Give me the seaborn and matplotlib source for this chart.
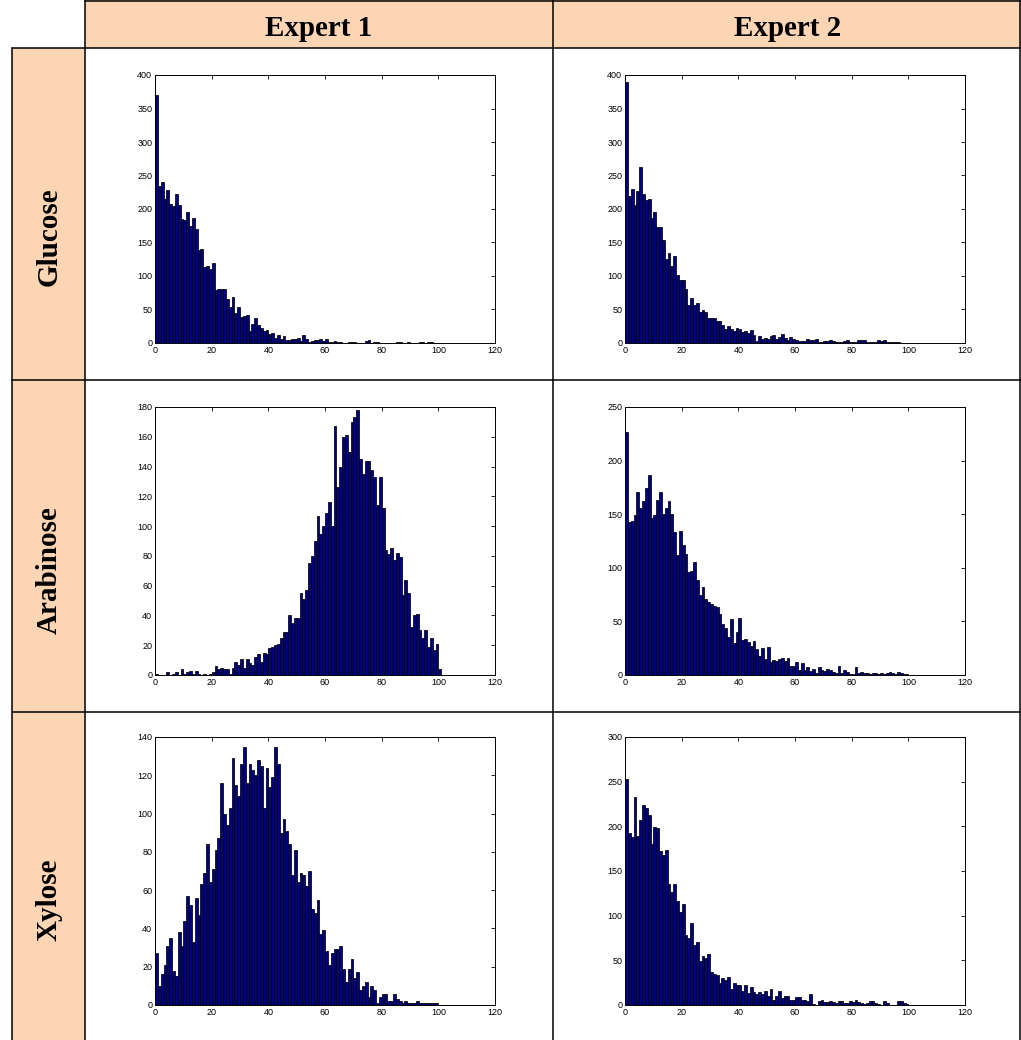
import numpy as np
import pandas as pd
import matplotlib
matplotlib.use("Agg")
import matplotlib.pyplot as plt
import seaborn as sns
from matplotlib.patches import Rectangle
from matplotlib.lines import Line2D

# ---------------- data ----------------
columns = ["Expert 1", "Expert 2"]
rows = ["Glucose", "Arabinose", "Xylose"]
bin_edges = list(range(0, 102))          # 101 unit-width bins
x_ticks = [0, 20, 40, 60, 80, 100, 120]

glucose_e1 = [370, 235, 240, 215, 228, 207, 204, 223, 206, 185, 184, 195, 175, 187, 170, 139, 140, 114, 115, 110,
              119, 79, 80, 81, 81, 66, 53, 68, 45, 53, 39, 41, 42, 18, 28, 37, 27, 22, 18, 20,
              13, 15, 7, 12, 6, 11, 5, 5, 6, 6,
              7, 3, 12, 6, 2, 3, 4, 4, 6, 3, 6, 2, 1, 3, 1, 1, 0, 0, 2, 2, 1, 0, 0, 0, 3, 4, 0, 1, 1, 0,
              0, 0, 0, 0, 0, 1, 1, 0, 0, 1, 0, 0, 0, 2, 1, 0, 1, 1, 0, 0, 0]
glucose_e2 = [390, 220, 230, 206, 227, 263, 222, 213, 215, 187, 196, 173, 173, 153, 125, 134, 115, 130, 101, 94,
              94, 80, 57, 67, 57, 60, 47, 49, 47, 37, 37, 38, 33, 33, 27, 21, 25, 21, 18, 23,
              21, 17, 18, 15, 19, 12, 3, 10, 6,
              8, 6, 10, 12, 6, 9, 13, 8, 5, 9, 6, 4, 3, 3, 3, 6, 4, 5, 6, 2, 2, 3, 3, 4, 3, 2, 2, 1, 3, 4,
              2, 1, 2, 5, 5, 4, 1, 1, 2, 1, 4, 3, 4, 2, 2, 1, 1, 1, 0, 0, 0, 0]
arabinose_e1 = [1, 0, 0, 0, 2, 0, 1, 2, 0, 4, 1, 2, 3, 1, 3, 1, 0, 1, 0, 1, 2,
                6, 4, 5, 4, 4, 1, 5, 9, 7, 11, 5, 11, 8, 7, 12, 14, 9, 15, 14, 18, 19, 20, 21, 25, 29, 29,
                40, 35, 38, 38, 55, 51, 57, 75, 80, 90, 107, 95, 100, 109, 116, 100, 167, 126, 140, 160,
                161, 150, 170, 173, 178, 145, 135, 144, 144, 138, 133, 114, 133, 112, 84, 81, 85, 77, 82, 79,
                54, 64, 55, 32, 40, 41, 30, 25, 30, 19, 25, 17, 21, 4]
arabinose_e2 = [227, 143, 144, 149, 171, 156, 162, 174, 187, 146, 149, 163, 171, 150, 156, 162, 150, 133, 112, 134,
                121, 113, 96, 97, 105, 89, 75, 82, 71, 68, 66, 64, 63, 57, 48, 44, 35, 52, 30, 40,
                53, 33, 34, 31, 27, 32, 24, 18,
                25, 15, 26, 12, 14, 13, 15, 16, 13, 16, 8, 8, 12, 5, 11, 5, 7, 4, 6, 2, 7, 5, 4, 6, 5, 3,
                2, 8, 2, 5, 3, 1, 1, 7, 2, 3, 2, 2, 1, 2, 2, 1, 2, 1, 2, 3, 2, 1, 3, 2, 1, 1, 0]
xylose_e1 = [27, 10, 16, 21, 31, 35, 18, 15, 38, 31, 44, 57, 52, 33, 56, 47, 63, 69, 84, 64,
             71, 81, 87, 116, 100, 94, 103, 129, 115, 109, 126, 135, 116, 126, 123, 120, 128, 125, 103, 124,
             114, 119, 135, 126, 90, 97, 91,
             84, 68, 81, 64, 69, 68, 62, 70, 50, 48, 55, 37, 39, 28, 21, 27, 29, 29, 31, 19, 12, 19, 24, 14,
             17, 8, 10, 12, 4, 10, 8, 1, 4, 6, 6, 2, 2, 6, 3, 2, 1, 2, 1, 1, 1, 2, 1, 1, 1, 1, 1, 1, 1, 0]
xylose_e2 = [253, 192, 188, 233, 189, 207, 224, 220, 213, 180, 199, 198, 172, 168, 174, 135, 126, 135, 116, 104,
             113, 78, 75, 92, 67, 70, 49, 55, 53, 57, 37, 35, 34, 25, 30, 28, 31, 18, 25, 22,
             22, 16, 22, 13, 20, 14, 12, 15,
             12, 16, 10, 18, 6, 10, 16, 8, 10, 10, 6, 6, 9, 9, 6, 6, 5, 12, 1, 0, 4, 6, 3, 3, 5, 3,
             2, 4, 4, 2, 2, 4, 3, 6, 3, 2, 1, 2, 5, 4, 2, 1, 0, 5, 2, 0, 0, 0, 4, 4, 2, 1, 0]

panel_counts = {
    ("Glucose", "Expert 1"): glucose_e1, ("Glucose", "Expert 2"): glucose_e2,
    ("Arabinose", "Expert 1"): arabinose_e1, ("Arabinose", "Expert 2"): arabinose_e2,
    ("Xylose", "Expert 1"): xylose_e1, ("Xylose", "Expert 2"): xylose_e2,
}
y_ticks = {
    ("Glucose", "Expert 1"): list(range(0, 401, 50)), ("Glucose", "Expert 2"): list(range(0, 401, 50)),
    ("Arabinose", "Expert 1"): list(range(0, 181, 20)), ("Arabinose", "Expert 2"): list(range(0, 251, 50)),
    ("Xylose", "Expert 1"): list(range(0, 141, 20)), ("Xylose", "Expert 2"): list(range(0, 301, 50)),
}

# ---------------- style ----------------
sns.set_theme(style="white")
plt.rcParams['font.family'] = ['Liberation Sans', 'DejaVu Sans']
plt.rcParams['text.color'] = 'black'

W, H = 1021, 1040
fig = plt.figure(figsize=(W / 100, H / 100), dpi=100)

peach = "#FCD5B4"
bar_color = "#000086"

def fx(x):
    return x / W

def fy(y):
    return 1 - y / H

# table backgrounds
fig.patches.append(Rectangle((fx(85), fy(48)), fx(W - 85), 48 / H, transform=fig.transFigure,
                             facecolor=peach, edgecolor="none", zorder=0))
fig.patches.append(Rectangle((fx(12), 0), fx(85 - 12), fy(48), transform=fig.transFigure,
                             facecolor=peach, edgecolor="none", zorder=0))

def hline(y, x0, x1):
    fig.add_artist(Line2D([fx(x0), fx(x1)], [fy(y), fy(y)], transform=fig.transFigure, color="black", lw=1.1))

def vline(x, y0, y1):
    fig.add_artist(Line2D([fx(x), fx(x)], [fy(y0), fy(y1)], transform=fig.transFigure, color="black", lw=1.1))

hline(1, 85, W)
hline(48, 12, W)
hline(380, 12, W)
hline(712, 12, W)
vline(12, 48, H)
vline(85, 0, H)
vline(553, 0, H)
vline(W - 1.5, 0, H)

# header & row labels
col_centers = [319, 788]
for c, xc in zip(columns, col_centers):
    fig.text(fx(xc), fy(28), c, ha="center", va="center", fontsize=21, fontweight="bold",
             color="black", family=["Liberation Serif", "DejaVu Serif"])
row_centers = [237, 570, 900]
for r, yc in zip(rows, row_centers):
    fig.text(fx(49), fy(yc), r, ha="center", va="center", rotation=90, fontsize=21, fontweight="bold",
             color="black", family=["Liberation Serif", "DejaVu Serif"])

# histogram panels
ax_left = {"Expert 1": 155, "Expert 2": 625}
ax_top = {"Glucose": 75, "Arabinose": 407, "Xylose": 737}
ax_w, ax_h = 340, 268

for r in rows:
    for c in columns:
        counts = panel_counts[(r, c)]
        df = pd.DataFrame({"value": np.arange(len(counts)) + 0.5, "count": counts})
        x0, y0 = ax_left[c], ax_top[r]
        ax = fig.add_axes([fx(x0), fy(y0 + ax_h), ax_w / W, ax_h / H])
        sns.histplot(data=df, x="value", weights="count", bins=bin_edges, ax=ax,
                     color=bar_color, edgecolor="black", linewidth=0.55, alpha=1.0)
        yt = y_ticks[(r, c)]
        ax.set_xlim(0, 120)
        ax.set_ylim(0, yt[-1])
        ax.set_xticks(x_ticks)
        ax.set_yticks(yt)
        ax.set_xlabel("")
        ax.set_ylabel("")
        ax.grid(False)
        ax.tick_params(direction="in", top=True, right=True, length=3, width=0.6,
                       labelsize=6.5, pad=2, colors="black")
        for s in ax.spines.values():
            s.set_visible(True)
            s.set_color("black")
            s.set_linewidth(0.7)

fig.savefig("out.png", dpi=100, facecolor="white")
